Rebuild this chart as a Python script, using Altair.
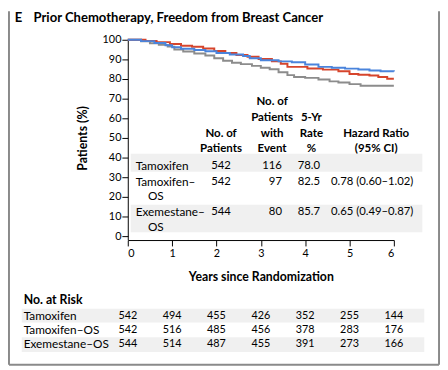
import altair as alt
import pandas as pd

# ---------------- data ----------------
arms = ["Tamoxifen", "Tamoxifen–OS", "Exemestane–OS"]
arm_colors = ["#8c8c8c", "#d6452c", "#4a84dc"]

tam_t = [0, 0.3, 0.5, 0.7, 0.9, 1.05, 1.25, 1.5, 1.75, 1.95, 2.15, 2.35, 2.55, 2.8, 3.0,
         3.2, 3.4, 3.6, 3.75, 4.0, 4.3, 4.55, 4.75, 5.0, 5.25, 6.0]
tam_s = [100, 99.2, 98.2, 97.4, 96.5, 95.0, 94.0, 93.0, 92.0, 90.6, 89.3, 88.3, 87.6, 86.7, 85.8,
         85.0, 83.5, 82.0, 81.0, 80.6, 79.8, 78.8, 78.2, 77.4, 76.6, 76.6]

tos_t = [0, 0.4, 0.65, 0.95, 1.2, 1.45, 1.7, 1.95, 2.2, 2.45, 2.7, 2.95, 3.25, 3.45, 3.6,
         4.05, 4.4, 4.75, 5.0, 5.2, 5.45, 5.65, 5.85, 6.0]
tos_s = [100, 99.4, 98.8, 97.8, 97.0, 96.4, 95.5, 94.3, 93.3, 92.2, 91.4, 90.2, 89.0, 87.8, 86.2,
         85.4, 84.8, 84.0, 82.6, 82.2, 81.8, 81.0, 80.2, 80.2]

eos_t = [0, 0.3, 0.6, 0.85, 1.0, 1.2, 1.5, 1.75, 2.0, 2.3, 2.6, 2.75, 3.0, 3.4, 3.7, 4.0,
         4.3, 4.6, 4.9, 5.2, 5.45, 5.7, 6.0]
eos_s = [100, 99.3, 98.4, 97.2, 96.2, 95.4, 94.8, 94.2, 93.3, 92.5, 91.7, 90.6, 89.6, 89.0, 88.6,
         87.4, 86.2, 85.8, 85.3, 84.9, 84.4, 84.0, 83.8]

# summary table
tbl_labels = [["Tamoxifen"], ["Tamoxifen–", "OS"], ["Exemestane–", "OS"]]
tbl_n = ["542", "542", "544"]
tbl_events = ["116", "97", "80"]
tbl_rate = ["78.0", "82.5", "85.7"]
tbl_hr = ["", "0.78 (0.60–1.02)", "0.65 (0.49–0.87)"]

# numbers at risk
risk_years = [0, 1, 2, 3, 4, 5, 6]
risk_labels = ["Tamoxifen", "Tamoxifen–OS", "Exemestane–OS"]
risk_tam = [542, 494, 455, 426, 352, 255, 144]
risk_tos = [542, 516, 485, 456, 378, 283, 176]
risk_eos = [544, 514, 487, 455, 391, 273, 166]

x_ticks = [0, 1, 2, 3, 4, 5, 6]
y_ticks = [0, 10, 20, 30, 40, 50, 60, 70, 80, 90, 100]

# ---------------- layout ----------------
FONT = "Lato"
PW, PH = 271, 200          # plot area
PAD = {"left": 122, "top": 29, "right": 47, "bottom": 133}

rows = []
for arm, t, s in [(arms[0], tam_t, tam_s), (arms[1], tos_t, tos_s), (arms[2], eos_t, eos_s)]:
    for ti, si in zip(t, s):
        rows.append({"arm": arm, "t": ti, "s": si})
curves = pd.DataFrame(rows)

x_axis = alt.Axis(values=x_ticks, title="Years since Randomization", format="d",
                  offset=4, tickSize=6, labelPadding=2, titlePadding=12)
x_scale = alt.Scale(domain=[0, 6], nice=False)

lines = alt.Chart(curves).mark_line(interpolate="step-after", strokeWidth=2).encode(
    x=alt.X("t:Q", scale=x_scale, axis=x_axis),
    y=alt.Y("s:Q", scale=alt.Scale(domain=[0, 100], nice=False),
            axis=alt.Axis(values=y_ticks, title="Patients (%)", format="d",
                          tickSize=6, labelPadding=1, titlePadding=13)),
    color=alt.Color("arm:N", scale=alt.Scale(domain=arms, range=arm_colors), legend=None),
)

def px(v):
    return alt.X(v, type="quantitative", scale=None, axis=None)

def py(v):
    return alt.Y(v, type="quantitative", scale=None, axis=None)

# stripes (light gray row backgrounds)
stripe_df = pd.DataFrame([
    {"x1": 3, "x2": 300, "y1": 116, "y2": 134.5},
    {"x1": 3, "x2": 300, "y1": 168, "y2": 196},
    {"x1": -108, "x2": 302, "y1": 274, "y2": 288},
    {"x1": -108, "x2": 302, "y1": 303, "y2": 318},
])
stripes = alt.Chart(stripe_df).mark_rect(color="#f0f0f0").encode(
    x=px("x1"), x2="x2", y=py("y1"), y2="y2")

# summary table text
row_y = [129.0, 144.7, 175.3]
second_line_dy = 15
lab_rows, ctr_rows, right_rows, left_rows = [], [], [], []
for i in range(3):
    lab_rows.append({"txt": tbl_labels[i][0], "x": 8, "y": row_y[i]})
    if len(tbl_labels[i]) > 1:
        lab_rows.append({"txt": tbl_labels[i][1], "x": 20.5, "y": row_y[i] + second_line_dy})
    ctr_rows.append({"txt": tbl_n[i], "x": 95, "y": row_y[i]})
    right_rows.append({"txt": tbl_events[i], "x": 157, "y": row_y[i]})
    left_rows.append({"txt": tbl_rate[i], "x": 173, "y": row_y[i]})
    if tbl_hr[i]:
        left_rows.append({"txt": tbl_hr[i], "x": 207, "y": row_y[i]})

def text_layer(data, align, bold=False, size=11.5):
    return alt.Chart(pd.DataFrame(data)).mark_text(
        align=align, baseline="middle", font=FONT, fontSize=size,
        fontWeight="bold" if bold else "normal", color="black"
    ).encode(x=px("x"), y=py("y"), text="txt:N")

header_rows = [
    {"txt": "No. of", "x": 95, "y": 94.7}, {"txt": "Patients", "x": 95, "y": 110.7},
    {"txt": "No. of", "x": 147, "y": 62.3}, {"txt": "Patients", "x": 147, "y": 78.5},
    {"txt": "with", "x": 147, "y": 94.7}, {"txt": "Event", "x": 147, "y": 110.7},
    {"txt": "5-Yr", "x": 187, "y": 78.5}, {"txt": "Rate", "x": 187, "y": 94.7},
    {"txt": "%", "x": 187, "y": 110.7},
    {"txt": "Hazard Ratio", "x": 253, "y": 94.7}, {"txt": "(95% CI)", "x": 253, "y": 110.7},
]

title_rows = [{"txt": "E", "x": -115, "y": -22},
              {"txt": "Prior Chemotherapy, Freedom from Breast Cancer", "x": -96, "y": -22}]

risk_head = [{"txt": "No. at Risk", "x": -106, "y": 264.7}]
risk_row_y = [281.3, 295.7, 310.3]
risk_lab = [{"txt": risk_labels[i], "x": -106, "y": risk_row_y[i]} for i in range(3)]

risk_rows = []
for i, vals in enumerate([risk_tam, risk_tos, risk_eos]):
    for yr, v in zip(risk_years, vals):
        risk_rows.append({"t": yr, "txt": str(v), "y": risk_row_y[i]})
risk_nums = alt.Chart(pd.DataFrame(risk_rows)).mark_text(
    align="center", baseline="middle", font=FONT, fontSize=11, color="black"
).encode(x=alt.X("t:Q", scale=x_scale, axis=x_axis),
         y=py("y"), text="txt:N")

# frame (left, right, bottom)
frame_df = pd.DataFrame([
    {"x1": -121, "x2": -121, "y1": -29, "y2": 331},
    {"x1": 317, "x2": 317, "y1": -29, "y2": 331},
    {"x1": -121, "x2": 317, "y1": 331, "y2": 331},
])
frame = alt.Chart(frame_df).mark_rule(color="#8a8a8a", strokeWidth=2).encode(
    x=px("x1"), x2="x2", y=py("y1"), y2="y2")

# y-axis line continued down to the offset x-axis
yext = alt.Chart(pd.DataFrame([{"x1": 0.5, "y1": 200, "y2": 204}])).mark_rule(
    color="black", strokeWidth=1).encode(x=px("x1"), y=py("y1"), y2="y2")

chart = alt.layer(
    stripes, lines,
    text_layer(lab_rows, "left", size=12),
    text_layer(left_rows, "left"),
    text_layer(ctr_rows, "center"),
    text_layer(right_rows, "right"),
    text_layer(header_rows, "center", bold=True, size=11.7),
    text_layer(title_rows, "left", bold=True, size=13.3),
    text_layer(risk_head, "left", bold=True, size=12.5),
    text_layer(risk_lab, "left", size=12),
    risk_nums, frame, yext,
).properties(
    width=PW, height=PH,
    autosize=alt.AutoSizeParams(type="none"),
    padding=PAD,
    background="white",
).configure_view(stroke=None).configure_axis(
    grid=False, domainColor="black", tickColor="black", domainWidth=1, tickWidth=1,
    labelFont=FONT, labelFontSize=11, labelColor="black",
    titleFont=FONT, titleFontSize=12.5, titleFontWeight="bold", titleColor="black",
)

chart.save("out.html", embed_options={"renderer": "svg", "actions": False})
